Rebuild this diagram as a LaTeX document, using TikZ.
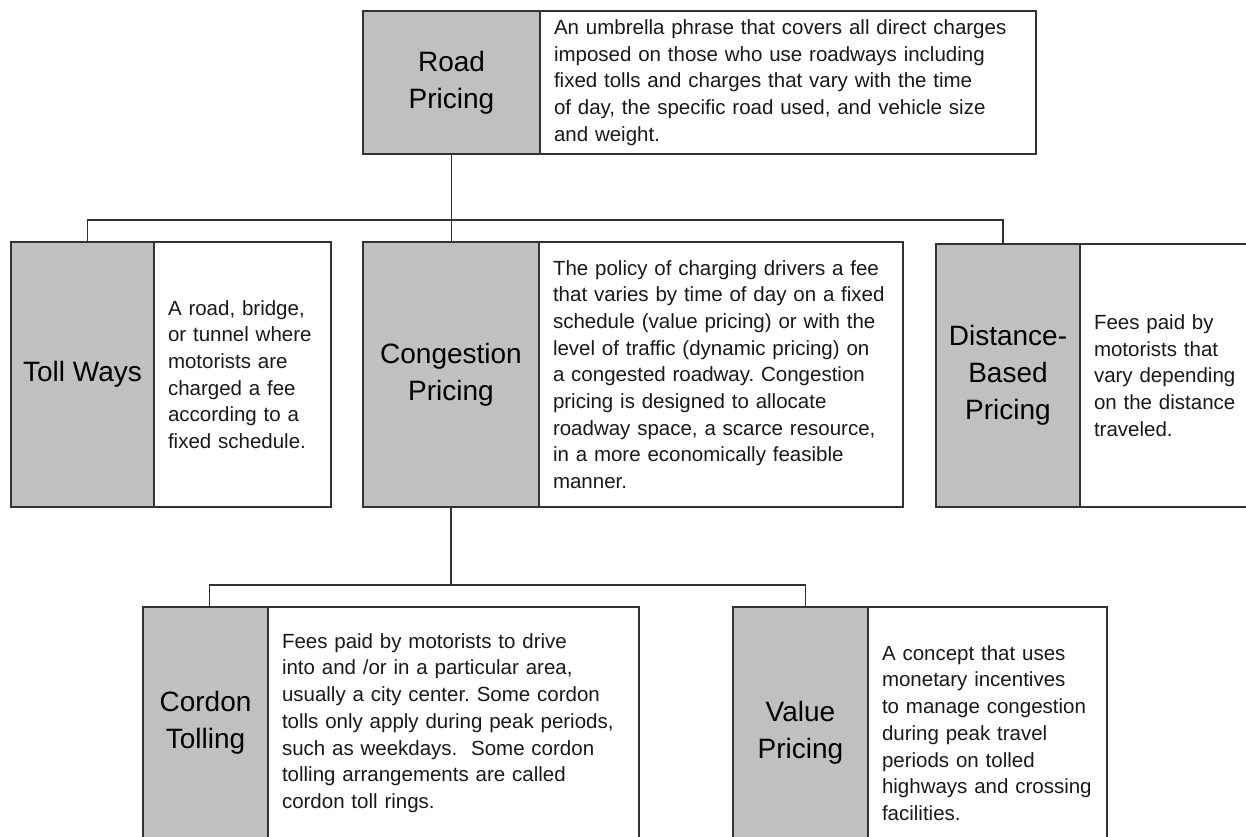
\documentclass[tikz,border=0pt]{standalone}
\usepackage{fontspec}
\setmainfont{Liberation Sans}
\usetikzlibrary{positioning}
\definecolor{boxgrey}{RGB}{192,192,192}
\definecolor{linegrey}{RGB}{51,51,51}
\frenchspacing

\begin{document}
\begin{tikzpicture}[x=1pt, y=-1pt,
    box/.style={draw=linegrey, line width=1.6pt, outer sep=0pt, inner ysep=2pt},
    head/.style={box, fill=boxgrey, anchor=north west, align=center, inner xsep=2pt,
        font=\fontsize{28}{37}\selectfont},
    desc/.style={box, fill=white, align=left, inner xsep=14pt, text=black!90,
        font=\fontsize{20.5}{26.7}\selectfont},
    link/.style={draw=linegrey, line width=1.6pt}]
    \useasboundingbox (0,0) rectangle (1246,836);

    % Top level
    \node[head, minimum width=177pt, minimum height=143pt] (road) at (363,11) {Road\\Pricing};
    \node[desc, text width=468pt, minimum height=143pt, right=0pt of road] (roaddesc)
        {An umbrella phrase that covers all direct charges\\
         imposed on those who use roadways including\\
         fixed tolls and charges that vary with the time\\
         of day, the specific road used, and vehicle size\\
         and weight.};

    % Second level
    \node[head, minimum width=143pt, minimum height=265pt] (toll) at (11,242) {Toll Ways};
    \node[desc, text width=149pt, minimum height=265pt, right=0pt of toll] (tolldesc)
        {A road, bridge,\\ or tunnel where\\ motorists are\\ charged a fee\\
         according to a\\ fixed schedule.};

    \node[head, minimum width=176pt, minimum height=265pt] (cong) at (363,242) {Congestion\\Pricing};
    \node[desc, text width=336pt, minimum height=265pt, right=0pt of cong] (congdesc)
        {The policy of charging drivers a fee\\
         that varies by time of day on a fixed\\
         schedule (value pricing) or with the\\
         level of traffic (dynamic pricing) on\\
         a congested roadway. Congestion\\
         pricing is designed to allocate\\
         roadway space, a scarce resource,\\
         in a more economically feasible\\
         manner.};

    \node[head, minimum width=144pt, minimum height=263pt] (dist) at (936,244) {Distance-\\Based\\Pricing};
    \node[desc, text width=152pt, minimum height=263pt, right=0pt of dist] (distdesc)
        {Fees paid by\\ motorists that\\ vary depending\\ on the distance\\ traveled.};

    % Third level
    \node[head, minimum width=125pt, minimum height=232pt] (cord) at (143,607) {Cordon\\Tolling};
    \node[desc, text width=343pt, minimum height=232pt, right=0pt of cord] (corddesc)
        {Fees paid by motorists to drive\\
         into and /or in a particular area,\\
         usually a city center. Some cordon\\
         tolls only apply during peak periods,\\
         such as weekdays. \ Some cordon\\
         tolling arrangements are called\\
         cordon toll rings.};

    \node[head, minimum width=135pt, minimum height=252pt] (value) at (733,607) {Value\\Pricing};
    \node[desc, text width=211pt, minimum height=252pt, right=0pt of value] (valuedesc)
        {A concept that uses\\ monetary incentives\\ to manage congestion\\
         during peak travel\\ periods on tolled\\ highways and crossing\\ facilities.};

    % Connectors
    \draw[link] (road.south) -- (road.south |- cong.north);
    \draw[link] ([xshift=5pt]toll.north) -- ++(0,-22) -| ([xshift=-5pt]dist.north);
    \draw[link] (cong.south) -- ++(0,78);
    \draw[link] ([xshift=4pt]cord.north) -- ++(0,-22) -| ([xshift=5pt]value.north);
\end{tikzpicture}
\end{document}
